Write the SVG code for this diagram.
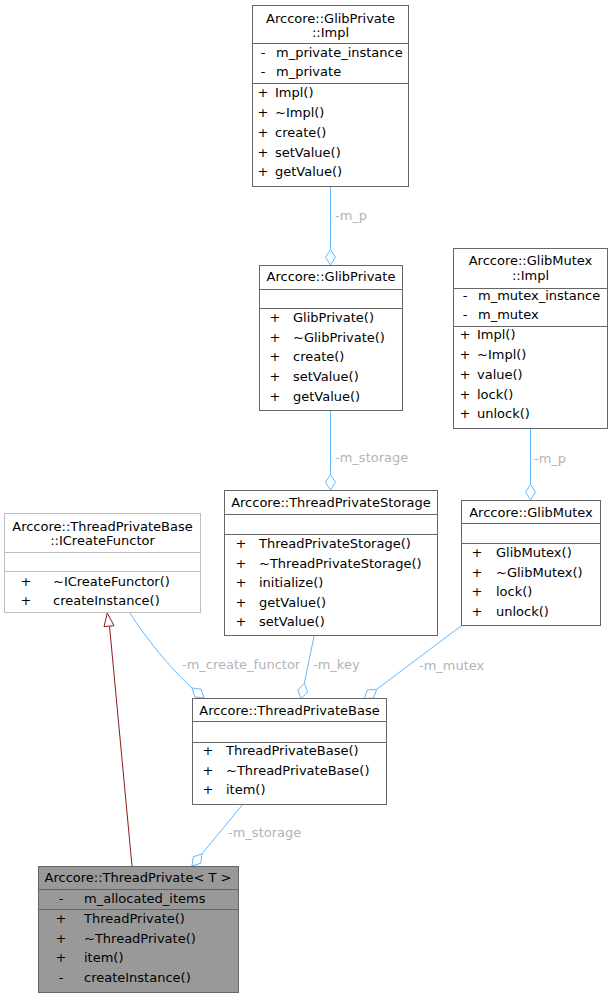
<svg xmlns="http://www.w3.org/2000/svg" width="613" height="997" viewBox="0 0 613 997">
<style>
text{font-family:"DejaVu Sans","Noto Sans",sans-serif;font-size:13px;fill:#000}
.t{text-anchor:middle}
.s{text-anchor:middle}
.lbl{fill:#b4b4b4}
.box{fill:#fff;stroke:#666;stroke-width:1}
.boxg{fill:#fff;stroke:#bfbfbf;stroke-width:1}
.boxd{fill:#999;stroke:#666;stroke-width:1}
.sep{stroke:#666;stroke-width:1}
.sepg{stroke:#bfbfbf;stroke-width:1}
.e{fill:none;stroke:#63b8ff;stroke-width:1}
.dia{fill:#fff;stroke:#63b8ff;stroke-width:1}
.inh{fill:none;stroke:#8b1a1a;stroke-width:1}
.tri{fill:#fff;stroke:#8b1a1a;stroke-width:1}
</style>
<rect width="613" height="997" fill="#fff"/>
<g id="connectors">
<path class="e" d="M330.5,186 L330.5,249.5"/>
<polygon class="dia" points="330.5,249.5 335.5,257.2 330.5,265 325.5,257.2"/>
<text class="lbl" x="335" y="220">-m_p</text>
<path class="e" d="M330.5,410 L330.5,474.5"/>
<polygon class="dia" points="330.5,474.5 335.5,482.2 330.5,490 325.5,482.2"/>
<text class="lbl" x="335" y="462">-m_storage</text>
<path class="e" d="M530.5,428 L530.5,484.5"/>
<polygon class="dia" points="530.5,484.5 535.5,492.2 530.5,500 525.5,492.2"/>
<text class="lbl" x="534" y="463">-m_p</text>
<path class="e" d="M130,613 C145,637 170,668 192,688"/>
<polygon class="dia" points="192,688 201.2,689.2 204,698 194.8,696.9"/>
<text class="lbl" x="182" y="669">-m_create_functor</text>
<path class="e" d="M314.3,635 L304.3,683.3"/>
<polygon class="dia" points="304.3,683.3 307.6,692 301.1,698.6 297.8,690"/>
<text class="lbl" x="313" y="669">-m_key</text>
<path class="e" d="M461,626 L376.7,689.3"/>
<polygon class="dia" points="376.7,689.3 373.5,698 364.2,698.7 367.5,690"/>
<text class="lbl" x="419" y="670">-m_mutex</text>
<path class="e" d="M243,804 L201.9,854"/>
<polygon class="dia" points="201.9,854 200.9,863.2 192,866 193.1,856.8"/>
<text class="lbl" x="228" y="837">-m_storage</text>
<path class="inh" d="M109.5,626 L132,866"/>
<polygon class="tri" points="107.3,613 114,625.7 104,626.7"/>
</g>
<g id="node-glibprivate-impl">
<rect class="box" x="252.5" y="5.5" width="156" height="181"/>
<line class="sep" x1="252.5" y1="43.5" x2="408.5" y2="43.5"/>
<line class="sep" x1="252.5" y1="83.5" x2="408.5" y2="83.5"/>
<text class="t" x="330.5" y="23">Arccore::GlibPrivate</text>
<text class="t" x="330.5" y="37">::Impl</text>
<text class="s" x="263" y="57">-</text><text x="276" y="57">m_private_instance</text>
<text class="s" x="263" y="76">-</text><text x="276" y="76">m_private</text>
<text class="s" x="263" y="97">+</text><text x="275" y="97">Impl()</text>
<text class="s" x="263" y="117">+</text><text x="275" y="117">~Impl()</text>
<text class="s" x="263" y="137">+</text><text x="275" y="137">create()</text>
<text class="s" x="263" y="157">+</text><text x="275" y="157">setValue()</text>
<text class="s" x="263" y="176">+</text><text x="275" y="176">getValue()</text>
</g>
<g id="node-glibprivate">
<rect class="box" x="259.5" y="265.5" width="143" height="145"/>
<line class="sep" x1="259.5" y1="289.5" x2="402.5" y2="289.5"/>
<line class="sep" x1="259.5" y1="308.5" x2="402.5" y2="308.5"/>
<text class="t" x="331" y="281">Arccore::GlibPrivate</text>
<text class="s" x="275" y="322">+</text><text x="293" y="322">GlibPrivate()</text>
<text class="s" x="275" y="342">+</text><text x="293" y="342">~GlibPrivate()</text>
<text class="s" x="275" y="361">+</text><text x="293" y="361">create()</text>
<text class="s" x="275" y="381">+</text><text x="293" y="381">setValue()</text>
<text class="s" x="275" y="401">+</text><text x="293" y="401">getValue()</text>
</g>
<g id="node-glibmutex-impl">
<rect class="box" x="453.5" y="248.5" width="154" height="180"/>
<line class="sep" x1="453.5" y1="288.5" x2="607.5" y2="288.5"/>
<line class="sep" x1="453.5" y1="326.5" x2="607.5" y2="326.5"/>
<text class="t" x="530.5" y="265">Arccore::GlibMutex</text>
<text class="t" x="530.5" y="280">::Impl</text>
<text class="s" x="465" y="300">-</text><text x="478" y="300">m_mutex_instance</text>
<text class="s" x="465" y="319">-</text><text x="478" y="319">m_mutex</text>
<text class="s" x="465" y="339">+</text><text x="477" y="339">Impl()</text>
<text class="s" x="465" y="359">+</text><text x="477" y="359">~Impl()</text>
<text class="s" x="465" y="379">+</text><text x="477" y="379">value()</text>
<text class="s" x="465" y="399">+</text><text x="477" y="399">lock()</text>
<text class="s" x="465" y="418">+</text><text x="477" y="418">unlock()</text>
</g>
<g id="node-icreatefunctor">
<rect class="boxg" x="4.5" y="513.5" width="196" height="99"/>
<line class="sepg" x1="4.5" y1="552.5" x2="200.5" y2="552.5"/>
<line class="sepg" x1="4.5" y1="571.5" x2="200.5" y2="571.5"/>
<text class="t" x="102.5" y="531">Arccore::ThreadPrivateBase</text>
<text class="t" x="102.5" y="545">::ICreateFunctor</text>
<text class="s" x="26" y="586">+</text><text x="53" y="586">~ICreateFunctor()</text>
<text class="s" x="26" y="605">+</text><text x="53" y="605">createInstance()</text>
</g>
<g id="node-threadprivatestorage">
<rect class="box" x="224.5" y="490.5" width="213" height="145"/>
<line class="sep" x1="224.5" y1="514.5" x2="437.5" y2="514.5"/>
<line class="sep" x1="224.5" y1="534.5" x2="437.5" y2="534.5"/>
<text class="t" x="331" y="507">Arccore::ThreadPrivateStorage</text>
<text class="s" x="241" y="548">+</text><text x="259" y="548">ThreadPrivateStorage()</text>
<text class="s" x="241" y="568">+</text><text x="259" y="568">~ThreadPrivateStorage()</text>
<text class="s" x="241" y="587">+</text><text x="259" y="587">initialize()</text>
<text class="s" x="241" y="607">+</text><text x="259" y="607">getValue()</text>
<text class="s" x="241" y="626">+</text><text x="259" y="626">setValue()</text>
</g>
<g id="node-glibmutex">
<rect class="box" x="461.5" y="500.5" width="139" height="125"/>
<line class="sep" x1="461.5" y1="523.5" x2="600.5" y2="523.5"/>
<line class="sep" x1="461.5" y1="543.5" x2="600.5" y2="543.5"/>
<text class="t" x="531" y="517">Arccore::GlibMutex</text>
<text class="s" x="477" y="557">+</text><text x="496" y="557">GlibMutex()</text>
<text class="s" x="477" y="577">+</text><text x="496" y="577">~GlibMutex()</text>
<text class="s" x="477" y="596">+</text><text x="496" y="596">lock()</text>
<text class="s" x="477" y="616">+</text><text x="496" y="616">unlock()</text>
</g>
<g id="node-threadprivatebase">
<rect class="box" x="192.5" y="698.5" width="194" height="106"/>
<line class="sep" x1="192.5" y1="721.5" x2="386.5" y2="721.5"/>
<line class="sep" x1="192.5" y1="742.5" x2="386.5" y2="742.5"/>
<text class="t" x="289.5" y="715">Arccore::ThreadPrivateBase</text>
<text class="s" x="208" y="755">+</text><text x="226" y="755">ThreadPrivateBase()</text>
<text class="s" x="208" y="775">+</text><text x="226" y="775">~ThreadPrivateBase()</text>
<text class="s" x="208" y="794">+</text><text x="226" y="794">item()</text>
</g>
<g id="node-threadprivate">
<rect class="boxd" x="38.5" y="866.5" width="200" height="126"/>
<line class="sep" x1="38.5" y1="889.5" x2="238.5" y2="889.5"/>
<line class="sep" x1="38.5" y1="909.5" x2="238.5" y2="909.5"/>
<text class="t" x="138" y="882">Arccore::ThreadPrivate&lt; T &gt;</text>
<text class="s" x="61" y="903">-</text><text x="84" y="903">m_allocated_items</text>
<text class="s" x="61" y="923">+</text><text x="84" y="923">ThreadPrivate()</text>
<text class="s" x="61" y="943">+</text><text x="84" y="943">~ThreadPrivate()</text>
<text class="s" x="61" y="962">+</text><text x="84" y="962">item()</text>
<text class="s" x="61" y="982">-</text><text x="84" y="982">createInstance()</text>
</g>
</svg>
